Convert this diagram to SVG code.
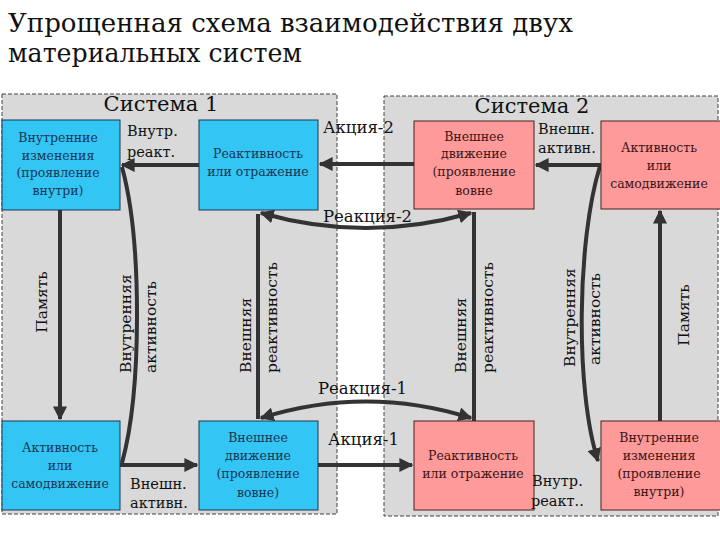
<svg xmlns="http://www.w3.org/2000/svg" width="720" height="540" viewBox="0 0 720 540" font-family="'DejaVu Serif', 'Liberation Serif', serif">
<defs>
<marker id="ah" viewBox="0 0 10 10" refX="9" refY="5" markerWidth="3.5" markerHeight="3.5" orient="auto" markerUnits="strokeWidth">
<path d="M0,0 L10,5 L0,10 Z" fill="#333"/>
</marker>
<marker id="ahs" viewBox="0 0 10 10" refX="9" refY="5" markerWidth="3.5" markerHeight="3.5" orient="auto-start-reverse" markerUnits="strokeWidth">
<path d="M0,0 L10,5 L0,10 Z" fill="#333"/>
</marker>
<style>
.title{font-size:26px;fill:#111}
.sys{fill:#d9d9d9;stroke:#444;stroke-width:1;stroke-dasharray:4,2}
.syslbl{font-size:21px;fill:#111;text-anchor:middle}
.blue{fill:#33c6f4;stroke:#1f3550;stroke-width:1}
.pink{fill:#ff9a9a;stroke:#4a2020;stroke-width:1}
.bt{font-size:12.5px;fill:#1a3554;text-anchor:middle}
.pt{font-size:12.5px;fill:#3a1515;text-anchor:middle}
.lbl{font-size:14.5px;fill:#111}
.lbl2{font-size:16.5px;fill:#111}
.vl{font-size:15.5px;fill:#111}
.c{fill:none;stroke:#333;stroke-width:4}
</style>
</defs>
<rect width="720" height="540" fill="#fff"/>
<text class="title" x="8" y="32" textLength="565" lengthAdjust="spacingAndGlyphs">Упрощенная  схема взаимодействия двух</text>
<text class="title" x="8" y="62" textLength="294" lengthAdjust="spacingAndGlyphs">материальных систем</text>

<g id="system1">
<rect class="sys" x="2" y="94" width="335" height="420"/>
<text class="syslbl" x="161" y="111">Система 1</text>
</g>
<g id="system2">
<rect class="sys" x="384" y="96" width="334" height="420"/>
<text class="syslbl" x="532" y="113">Система 2</text>
</g>

<g id="connectors">
<line class="c" x1="199" y1="165" x2="122" y2="165" marker-end="url(#ah)"/>
<path class="c" d="M122,167 C142,240 142,390 122,463"/>
<line class="c" x1="60" y1="210" x2="60" y2="419" marker-end="url(#ah)"/>
<line class="c" x1="120" y1="465" x2="197" y2="465" marker-end="url(#ah)"/>
<line class="c" x1="258" y1="214" x2="258" y2="419"/>
<line class="c" x1="474" y1="212" x2="474" y2="421"/>
<line class="c" x1="414" y1="164" x2="320" y2="164" marker-end="url(#ah)"/>
<line class="c" x1="318" y1="465" x2="412" y2="465" marker-end="url(#ah)"/>
<line class="c" x1="601" y1="165" x2="536" y2="165" marker-end="url(#ah)"/>
<path class="c" d="M600,166 C577,240 575,390 598,461" marker-end="url(#ah)"/>
<line class="c" x1="660" y1="421" x2="660" y2="211" marker-end="url(#ah)"/>
<path class="c" d="M261,213 Q366,243 471,213" marker-start="url(#ahs)" marker-end="url(#ah)"/>
<path class="c" d="M261,418 Q366,385 471,418" marker-start="url(#ahs)" marker-end="url(#ah)"/>
</g>

<g id="n-vnutr-izm-1">
<rect class="blue" x="2" y="120" width="118" height="90"/>
<text class="bt" x="58" y="142">Внутренние</text>
<text class="bt" x="58" y="160">изменения</text>
<text class="bt" x="58" y="177">(проявление</text>
<text class="bt" x="58" y="195">внутри)</text>
</g>
<g id="n-reakt-1">
<rect class="blue" x="199" y="120" width="119" height="90"/>
<text class="bt" x="258" y="158">Реактивность</text>
<text class="bt" x="258" y="176">или отражение</text>
</g>
<g id="n-akt-1">
<rect class="blue" x="2" y="421" width="118" height="89"/>
<text class="bt" x="60" y="452">Активность</text>
<text class="bt" x="60" y="470">или</text>
<text class="bt" x="60" y="488">самодвижение</text>
</g>
<g id="n-vnesh-1">
<rect class="blue" x="199" y="421" width="119" height="89"/>
<text class="bt" x="258" y="442">Внешнее</text>
<text class="bt" x="258" y="460">движение</text>
<text class="bt" x="258" y="478">(проявление</text>
<text class="bt" x="258" y="497">вовне)</text>
</g>
<g id="n-vnesh-2">
<rect class="pink" x="414" y="121" width="120" height="88"/>
<text class="pt" x="474" y="141">Внешнее</text>
<text class="pt" x="474" y="158">движение</text>
<text class="pt" x="474" y="176">(проявление</text>
<text class="pt" x="474" y="195">вовне</text>
</g>
<g id="n-akt-2">
<rect class="pink" x="601" y="121" width="125" height="88"/>
<text class="pt" x="659" y="152">Активность</text>
<text class="pt" x="659" y="170">или</text>
<text class="pt" x="659" y="188">самодвижение</text>
</g>
<g id="n-reakt-2">
<rect class="pink" x="414" y="421" width="120" height="89"/>
<text class="pt" x="473" y="460">Реактивность</text>
<text class="pt" x="473" y="478">или отражение</text>
</g>
<g id="n-vnutr-izm-2">
<rect class="pink" x="601" y="421" width="125" height="89"/>
<text class="pt" x="659" y="442">Внутренние</text>
<text class="pt" x="659" y="460">изменения</text>
<text class="pt" x="659" y="478">(проявление</text>
<text class="pt" x="659" y="496">внутри)</text>
</g>

<g id="labels">
<text class="lbl" x="127" y="136">Внутр.</text>
<text class="lbl" x="127" y="157">реакт.</text>
<text class="lbl2" x="323" y="133">Акция-2</text>
<text class="lbl2" x="323" y="222">Реакция-2</text>
<text class="lbl" x="538" y="134">Внешн.</text>
<text class="lbl" x="538" y="153">активн.</text>
<text class="lbl2" x="318" y="394">Реакция-1</text>
<text class="lbl2" x="328" y="445">Акция-1</text>
<text class="lbl" x="130" y="489">Внешн.</text>
<text class="lbl" x="130" y="508">активн.</text>
<text class="lbl" x="532" y="486">Внутр.</text>
<text class="lbl" x="531" y="506">реакт..</text>
<text class="vl" transform="translate(47,302) rotate(-90)" text-anchor="middle">Память</text>
<text class="vl" transform="translate(131,373) rotate(-90)">Внутренняя</text>
<text class="vl" transform="translate(156,373) rotate(-90)">активность</text>
<text class="vl" transform="translate(251,373) rotate(-90)">Внешняя</text>
<text class="vl" transform="translate(277,373) rotate(-90)">реактивность</text>
<text class="vl" transform="translate(466,373) rotate(-90)">Внешняя</text>
<text class="vl" transform="translate(493,373) rotate(-90)">реактивность</text>
<text class="vl" transform="translate(575,367) rotate(-90)">Внутренняя</text>
<text class="vl" transform="translate(600,365) rotate(-90)">активность</text>
<text class="vl" transform="translate(689,315) rotate(-90)" text-anchor="middle">Память</text>
</g>
</svg>
